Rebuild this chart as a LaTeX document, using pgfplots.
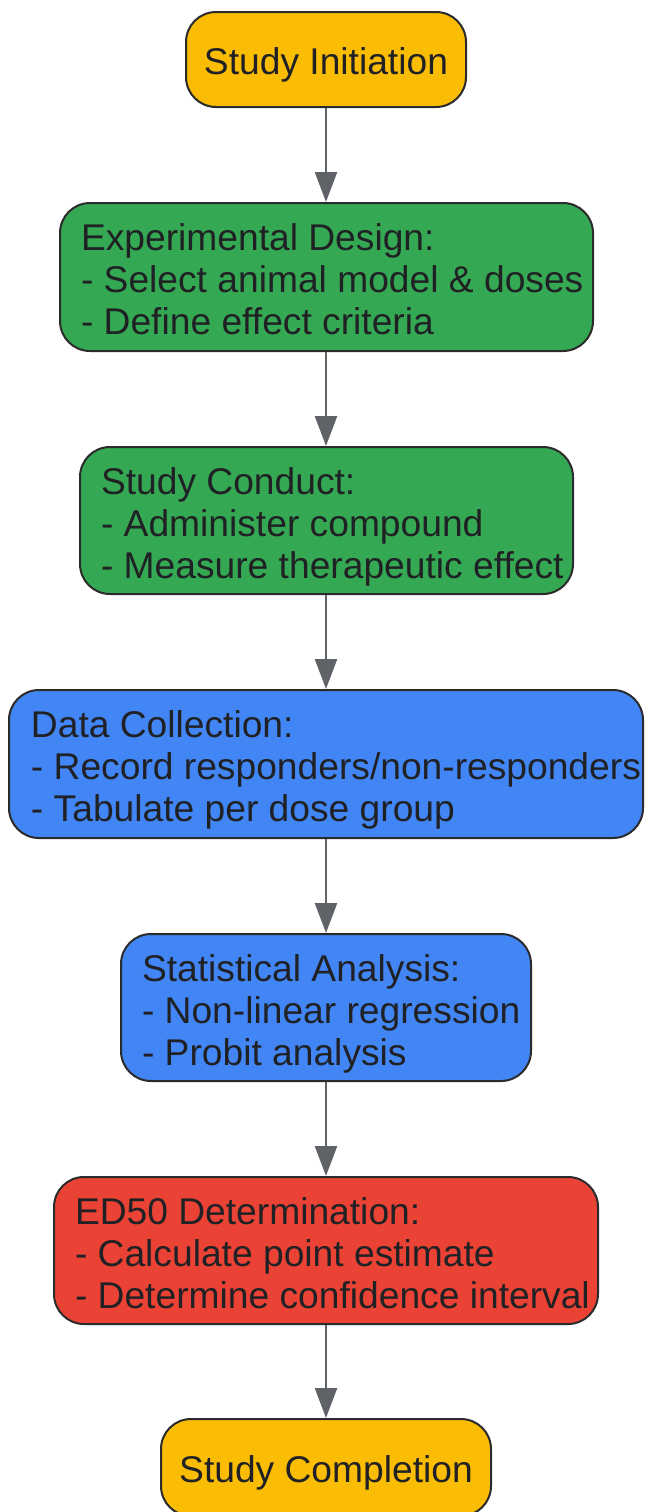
\documentclass[border=0pt]{standalone}
\usepackage{fontspec}
\setmainfont{Liberation Sans}
\usepackage{pgfplots}
\pgfplotsset{compat=1.18}
\usetikzlibrary{arrows.meta}
\definecolor{cy}{HTML}{FBBC04}
\definecolor{cg}{HTML}{34A853}
\definecolor{cb}{HTML}{4285F4}
\definecolor{cr}{HTML}{EA4335}
\definecolor{ctext}{HTML}{202124}
\definecolor{cedge}{HTML}{2B2B2B}
\definecolor{carrow}{HTML}{5F6368}
\begin{document}
\begin{tikzpicture}[
  box/.style={draw=cedge, line width=2bp, rounded corners=30bp},
  txt/.style={inner sep=0pt, outer sep=0pt, text=ctext, font=\fontsize{37.2bp}{42bp}\selectfont},
  arr/.style={draw=carrow, line width=2.5bp, -{Triangle[width=22bp,length=30bp]}}
]
\begin{axis}[
  scale only axis, width=646bp, height=1512bp,
  xmin=0, xmax=646, ymin=0, ymax=1512, y dir=reverse,
  axis lines=none, clip=false
]
% boxes
\draw[box, fill=cy] (axis cs:186,12) rectangle (axis cs:466,107);
\draw[box, fill=cg] (axis cs:60,203) rectangle (axis cs:593,351);
\draw[box, fill=cg] (axis cs:80,447) rectangle (axis cs:573,594);
\draw[box, fill=cb] (axis cs:9,690) rectangle (axis cs:643,838);
\draw[box, fill=cb] (axis cs:121,934) rectangle (axis cs:531,1081);
\draw[box, fill=cr] (axis cs:54,1177) rectangle (axis cs:598,1324);
\draw[box, fill=cy] (axis cs:161,1419) rectangle (axis cs:491,1516);
% arrows
\draw[arr] (axis cs:326,108) -- (axis cs:326,202);
\draw[arr] (axis cs:326,352) -- (axis cs:326,446);
\draw[arr] (axis cs:326,595) -- (axis cs:326,689);
\draw[arr] (axis cs:326,839) -- (axis cs:326,933);
\draw[arr] (axis cs:326,1082) -- (axis cs:326,1176);
\draw[arr] (axis cs:326,1325) -- (axis cs:326,1418);
% texts
\node[txt, anchor=base] at (axis cs:326,74) {Study Initiation};
\node[txt, anchor=base west] at (axis cs:81,250) {Experimental Design:};
\node[txt, anchor=base west] at (axis cs:81,292) {- Select animal model \& doses};
\node[txt, anchor=base west] at (axis cs:81,334) {- Define effect criteria};
\node[txt, anchor=base west] at (axis cs:101,494) {Study Conduct:};
\node[txt, anchor=base west] at (axis cs:101,536) {- Administer compound};
\node[txt, anchor=base west] at (axis cs:101,578) {- Measure therapeutic effect};
\node[txt, anchor=base west] at (axis cs:31,737) {Data Collection:};
\node[txt, anchor=base west] at (axis cs:31,779) {- Record responders/non-responders};
\node[txt, anchor=base west] at (axis cs:31,821) {- Tabulate per dose group};
\node[txt, anchor=base west] at (axis cs:142,981) {Statistical Analysis:};
\node[txt, anchor=base west] at (axis cs:142,1023) {- Non-linear regression};
\node[txt, anchor=base west] at (axis cs:142,1065) {- Probit analysis};
\node[txt, anchor=base west] at (axis cs:75,1224) {ED50 Determination:};
\node[txt, anchor=base west] at (axis cs:75,1266) {- Calculate point estimate};
\node[txt, anchor=base west] at (axis cs:75,1308) {- Determine confidence interval};
\node[txt, anchor=base] at (axis cs:326,1482) {Study Completion};
\end{axis}
\pgfresetboundingbox
\useasboundingbox (current axis.south west) rectangle (current axis.north east);
\end{tikzpicture}
\end{document}
